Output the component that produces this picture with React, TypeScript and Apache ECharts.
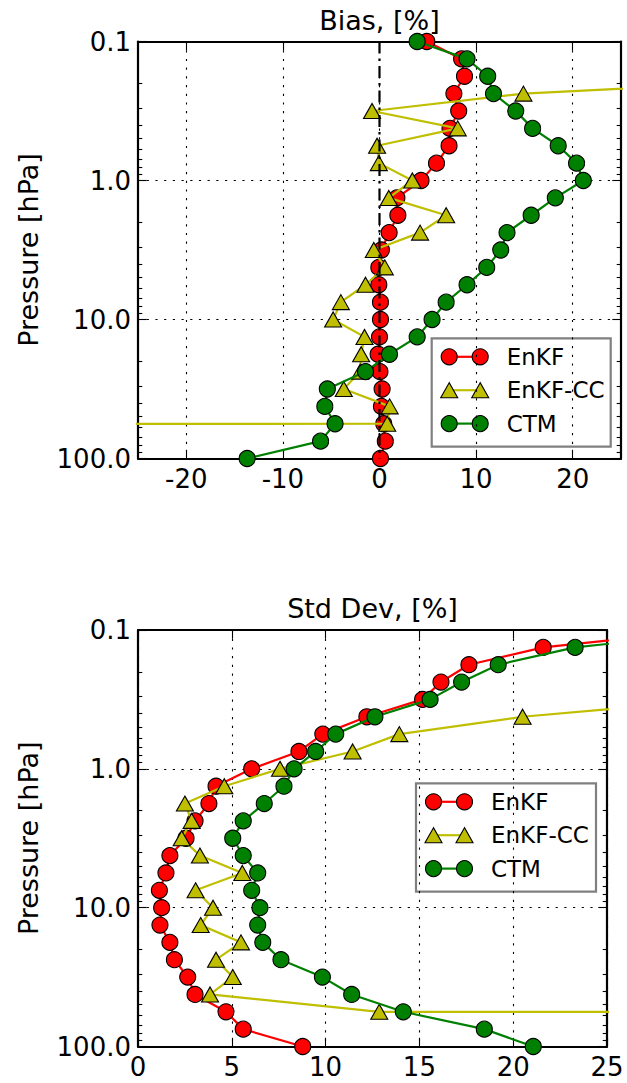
import React, { useEffect, useRef } from "react";
import * as echarts from "echarts";

// Pressure levels [hPa] (1/8 decade spacing, 0.1 .. 100)
const PRESSURE = [
  0.1, 0.1334, 0.1778, 0.2371, 0.3162, 0.4217, 0.5623, 0.7499, 1.0, 1.334, 1.778, 2.371, 3.162,
  4.217, 5.623, 7.499, 10, 13.34, 17.78, 23.71, 31.62, 42.17, 56.23, 74.99, 100,
];

// Bias, [%]
const BIAS_ENKF = [
  4.9, 8.5, 8.8, 7.7, 8.2, 7.3, 7.2, 5.9, 4.3, 1.8, 1.9, 1.0, 0.2, -0.07, -0.07, 0.1, 0.1, 0.0,
  -0.14, 0.05, 0.27, 0.2, 0.44, 0.6, 0.1,
];
const BIAS_ENKF_CC = [
  80, 65, 51, 14.9, -0.77, 8.1, -0.25, -0.07, 3.4, 0.96, 6.9, 4.2, -0.59, 0.55, -1.45, -4.0, -4.8,
  -1.55, -1.9, -2.0, -3.7, 1.05, 0.8, -2500, -1800,
];
const BIAS_CTM = [
  3.9, 9.06, 11.2, 11.8, 14.1, 15.85, 18.5, 20.4, 21.1, 18.2, 15.7, 13.2, 12.55, 11.1, 9.06, 6.9,
  5.44, 3.9, 1.03, -1.45, -5.4, -5.66, -4.6, -6.1, -13.7,
];

// Std Dev, [%]
const STD_ENKF = [
  30.4, 21.6, 17.64, 16.15, 15.17, 12.2, 9.85, 8.58, 6.06, 4.16, 3.78, 3.04, 2.56, 1.7, 1.49, 1.14,
  1.26, 1.17, 1.7, 1.94, 2.65, 3.04, 4.69, 5.61, 8.78,
];
const STD_ENKF_CC = [
  60, 52, 44, 37, 31, 20.5, 13.93, 11.44, 7.57, 4.6, 2.5, 2.86, 2.33, 3.3, 5.56, 3.07, 4.0, 3.34,
  5.49, 4.16, 5.05, 3.84, 12.86, 2500, 1800,
];
const STD_CTM = [
  32, 23.3, 19.2, 17.25, 15.57, 12.63, 10.54, 9.47, 8.32, 7.78, 6.73, 5.61, 5.05, 5.61, 6.38, 6.06,
  6.5, 6.38, 6.65, 7.62, 9.83, 11.39, 14.14, 18.46, 21.07,
];

const BIAS_TICKS = [-20, -10, 0, 10, 20];
const P_TICKS = [0.1, 1, 10, 100];
const P_MINOR = [0.2, 0.3, 0.4, 0.5, 0.6, 0.7, 0.8, 0.9, 2, 3, 4, 5, 6, 7, 8, 9, 20, 30, 40, 50, 60, 70, 80, 90];
const ZERO_X = 0;

const SERIES_NAMES = ["EnKF", "EnKF-CC", "CTM"];
const FONT = "DejaVu Sans";
const RED = "#ff0000";
const OLIVE = "#bfbf00";
const GREEN = "#008000";
const COLORS = [RED, OLIVE, GREEN];
const SYMBOLS = ["circle", "triangle", "circle"];

const pairs = (vals: number[]) => vals.map((v, i) => [v, PRESSURE[i]]);

const frameLine = { color: "#000", width: 2.2 };
const tickLine = { color: "#000", width: 1.1 };
const gridLine = { color: "#000", width: 1.1, type: [2.2, 6.5] as any };
const labelStyle = { fontSize: 26, color: "#000", fontFamily: FONT };

function yAxesFor(grid: number) {
  const base: any = { type: "log", logBase: 10, min: 0.1, max: 100, inverse: true, gridIndex: grid };
  return [
    {
      ...base,
      position: "left",
      name: "Pressure [hPa]",
      nameLocation: "middle",
      nameRotate: 90,
      nameGap: 96,
      nameTextStyle: { fontSize: 27, color: "#000", fontFamily: FONT },
      axisLine: { show: true, onZero: false, lineStyle: frameLine },
      axisTick: { show: true, inside: true, length: 8.7, lineStyle: tickLine, customValues: P_TICKS },
      axisLabel: {
        ...labelStyle,
        margin: 7,
        customValues: P_TICKS,
        formatter: (v: number) => Number(v).toFixed(1),
      },
      splitLine: { show: true, lineStyle: gridLine },
    },
    {
      ...base,
      position: "left",
      axisLine: { show: false, onZero: false },
      axisLabel: { show: false },
      splitLine: { show: false },
      axisTick: { show: true, inside: true, length: 4.3, lineStyle: tickLine, customValues: P_MINOR },
    },
    {
      ...base,
      position: "right",
      axisLine: { show: true, onZero: false, lineStyle: frameLine },
      axisLabel: { show: false },
      splitLine: { show: false },
      axisTick: { show: true, inside: true, length: 8.7, lineStyle: tickLine, customValues: P_TICKS },
    },
    {
      ...base,
      position: "right",
      axisLine: { show: false, onZero: false },
      axisLabel: { show: false },
      splitLine: { show: false },
      axisTick: { show: true, inside: true, length: 4.3, lineStyle: tickLine, customValues: P_MINOR },
    },
  ];
}

function seriesFor(grid: number, sets: number[][]) {
  return sets.map((vals, k) => ({
    type: "line",
    name: SERIES_NAMES[k],
    xAxisIndex: grid * 2,
    yAxisIndex: grid * 4,
    data: pairs(vals),
    symbol: SYMBOLS[k],
    symbolSize: k === 1 ? [17, 15] : 16,
    z: 3 + k,
    lineStyle: { color: COLORS[k], width: 2.2 },
    itemStyle: { color: COLORS[k], borderColor: "#000", borderWidth: 1.1 },
    emphasis: { disabled: true },
    silent: true,
  }));
}

function legendGraphic(x0: number, y0: number, w: number, h: number) {
  const children: any[] = [
    {
      type: "rect",
      shape: { x: x0, y: y0, width: w, height: h },
      style: { fill: "#fff", stroke: "#808080", lineWidth: 2.2 },
    },
  ];
  const m1 = x0 + 17.5;
  const m2 = m1 + 31;
  SERIES_NAMES.forEach((name, k) => {
    const cy = y0 + 18.5 + k * 33.4;
    children.push({
      type: "line",
      shape: { x1: m1, y1: cy, x2: m2, y2: cy },
      style: { stroke: COLORS[k], lineWidth: 2.2 },
    });
    [m1, m2].forEach((cx) => {
      if (SYMBOLS[k] === "circle") {
        children.push({
          type: "circle",
          shape: { cx, cy, r: 8 },
          style: { fill: COLORS[k], stroke: "#000", lineWidth: 1.1 },
        });
      } else {
        children.push({
          type: "polygon",
          shape: { points: [[cx, cy - 7.5], [cx - 8.5, cy + 7.5], [cx + 8.5, cy + 7.5]] },
          style: { fill: COLORS[k], stroke: "#000", lineWidth: 1.1 },
        });
      }
    });
    children.push({
      type: "text",
      style: {
        text: name,
        x: m2 + 26.5,
        y: cy,
        textVerticalAlign: "middle",
        fill: "#000",
        font: `23px "${FONT}"`,
      },
    });
  });
  return { type: "group", z: 20, children };
}

export default function App() {
  const ref = useRef<HTMLDivElement>(null);
  useEffect(() => {
    if (!ref.current) return;
    const chart = echarts.init(ref.current, undefined, { renderer: "svg" });
    const option: any = {
      animation: false,
      backgroundColor: "#fff",
      textStyle: { fontFamily: FONT },
      grid: [
        { left: 138, top: 41.5, width: 483, height: 417 },
        { left: 138, top: 630, width: 469, height: 416.5 },
      ],
      xAxis: [
        {
          type: "value",
          gridIndex: 0,
          position: "bottom",
          min: -25,
          max: 25,
          axisLine: { show: true, onZero: false, lineStyle: frameLine },
          axisTick: { show: true, inside: true, length: 8.7, lineStyle: tickLine, customValues: BIAS_TICKS },
          axisLabel: { ...labelStyle, margin: 7, customValues: BIAS_TICKS },
          splitLine: { show: true, lineStyle: gridLine },
        },
        {
          type: "value",
          gridIndex: 0,
          position: "top",
          min: -25,
          max: 25,
          axisLine: { show: true, onZero: false, lineStyle: frameLine },
          axisTick: { show: true, inside: true, length: 8.7, lineStyle: tickLine, customValues: BIAS_TICKS },
          axisLabel: { show: false },
          splitLine: { show: false },
        },
        {
          type: "value",
          gridIndex: 1,
          position: "bottom",
          min: 0,
          max: 25,
          interval: 5,
          axisLine: { show: true, onZero: false, lineStyle: frameLine },
          axisTick: { show: true, inside: true, length: 8.7, lineStyle: tickLine },
          axisLabel: { ...labelStyle, margin: 7 },
          splitLine: { show: true, lineStyle: gridLine },
        },
        {
          type: "value",
          gridIndex: 1,
          position: "top",
          min: 0,
          max: 25,
          interval: 5,
          axisLine: { show: true, onZero: false, lineStyle: frameLine },
          axisTick: { show: true, inside: true, length: 8.7, lineStyle: tickLine },
          axisLabel: { show: false },
          splitLine: { show: false },
        },
      ],
      yAxis: [...yAxesFor(0), ...yAxesFor(1)],
      series: [
        ...seriesFor(0, [BIAS_ENKF, BIAS_ENKF_CC, BIAS_CTM]),
        {
          type: "line",
          xAxisIndex: 0,
          yAxisIndex: 0,
          data: [
            [ZERO_X, PRESSURE[0]],
            [ZERO_X, PRESSURE[PRESSURE.length - 1]],
          ],
          symbol: "none",
          z: 10,
          silent: true,
          lineStyle: { color: "#000", width: 2.2, type: [12, 5, 2.5, 5] },
        },
        ...seriesFor(1, [STD_ENKF, STD_ENKF_CC, STD_CTM]),
      ],
      graphic: [
        {
          type: "text",
          style: {
            text: "Bias, [%]",
            x: 379.5,
            y: 20,
            textAlign: "center",
            textVerticalAlign: "middle",
            fill: "#000",
            font: `27px "${FONT}"`,
          },
        },
        {
          type: "text",
          style: {
            text: "Std Dev, [%]",
            x: 372.5,
            y: 608,
            textAlign: "center",
            textVerticalAlign: "middle",
            fill: "#000",
            font: `27px "${FONT}"`,
          },
        },
        legendGraphic(431.7, 338.3, 179, 108.4),
        legendGraphic(416, 783.3, 180, 108.4),
      ],
    };
    chart.setOption(option);
    return () => chart.dispose();
  }, []);
  return (
    <div
      ref={ref}
      style={{ position: "fixed", left: 0, top: 0, width: 627, height: 1083, background: "#fff" }}
    />
  );
}
